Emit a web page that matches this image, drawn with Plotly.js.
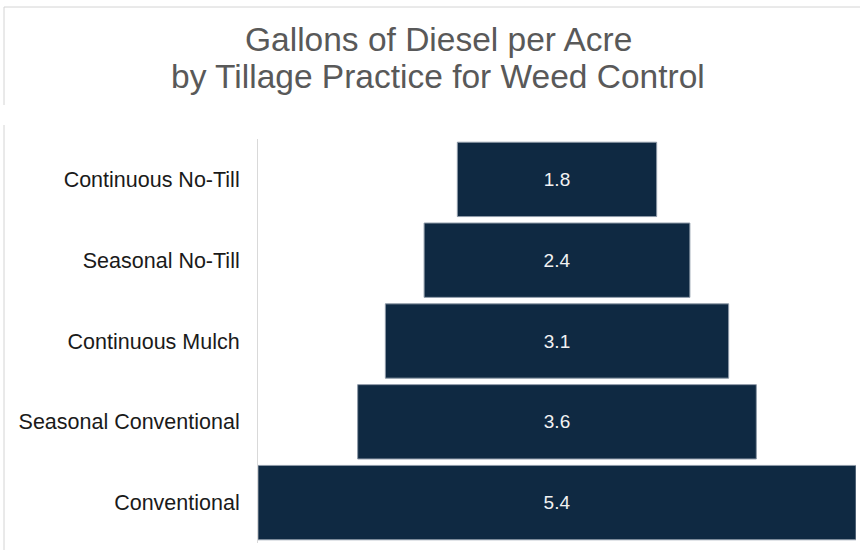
<!DOCTYPE html>
<html>
<head>
<meta charset="utf-8">
<script src="https://cdn.plot.ly/plotly-3.0.1.min.js"></script>
<style>html,body{margin:0;padding:0;background:#fff;}#chart{width:860px;height:550px;}</style>
</head>
<body>
<div id="chart"></div>
<script>
const categories = ["Continuous No-Till", "Seasonal No-Till", "Continuous Mulch", "Seasonal Conventional", "Conventional"];
const gallonsPerAcre = [1.8, 2.4, 3.1, 3.6, 5.4];
const titleLines = ["Gallons of Diesel per Acre", "by Tillage Practice for Weed Control"];

const W = 860, H = 550;
const M = {l: 258, r: 4, t: 139, b: 7};
const pw = W - M.l - M.r, ph = H - M.t - M.b;
const px = x => (x - M.l) / pw;
const py = y => (H - M.b - y) / ph;
const border = '#d4d4d4';
const maxVal = Math.max(...gallonsPerAcre);
const FONT = 'Liberation Sans, Arial, sans-serif';

const trace = {
  type: 'funnel',
  y: categories,
  x: gallonsPerAcre,
  orientation: 'h',
  textinfo: 'value',
  textposition: 'inside',
  insidetextanchor: 'middle',
  texttemplate: '%{x:.1f}',
  textfont: {family: FONT, size: 19, color: '#f2f2f2'},
  marker: {color: '#0f2942', line: {color: '#8e9aa8', width: 1}},
  connector: {visible: false},
  hoverinfo: 'skip'
};

const titleY = [39, 76];
const layout = {
  width: W, height: H,
  margin: M,
  paper_bgcolor: '#ffffff',
  plot_bgcolor: '#ffffff',
  showlegend: false,
  funnelgap: 0.08,
  font: {family: FONT, color: '#1a1a1a'},
  annotations: titleLines.map((t, i) => ({
    text: t, showarrow: false,
    xref: 'paper', yref: 'paper',
    x: px(438), xanchor: 'center',
    y: py(titleY[i]), yanchor: 'middle',
    font: {family: FONT, size: 33.5, color: '#595959'}
  })),
  xaxis: {range: [-maxVal / 2, maxVal / 2], visible: false, fixedrange: true},
  yaxis: {
    autorange: 'reversed',
    showline: true, linecolor: '#d9d9d9', linewidth: 1,
    ticks: 'outside', ticklen: 13, tickcolor: 'rgba(0,0,0,0)',
    tickfont: {family: FONT, size: 21.5, color: '#1a1a1a'},
    showgrid: false, zeroline: false
  },
  shapes: [
    {type: 'line', xref: 'paper', yref: 'paper', x0: px(4), x1: px(860), y0: py(7), y1: py(7), line: {color: border, width: 1}},
    {type: 'line', xref: 'paper', yref: 'paper', x0: px(4), x1: px(4), y0: py(7), y1: py(105), line: {color: border, width: 1}},
    {type: 'line', xref: 'paper', yref: 'paper', x0: px(4), x1: px(4), y0: py(125), y1: py(550), line: {color: border, width: 1}}
  ]
};

Plotly.newPlot('chart', [trace], layout, {displayModeBar: false, staticPlot: true});
</script>
</body>
</html>
